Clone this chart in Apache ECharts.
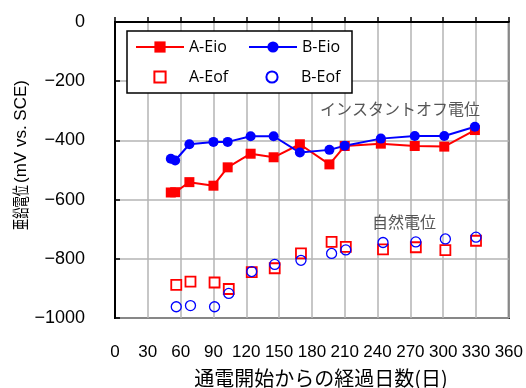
<!DOCTYPE html>
<html><head><meta charset="utf-8">
<script src="https://cdn.jsdelivr.net/npm/echarts@6/dist/echarts.min.js"></script>
<style>html,body{margin:0;padding:0;background:#fff}#c{width:526px;height:388px}</style>
</head><body><div id="c"></div>
<script>
var eioDays = [51, 55, 68, 90, 103, 124, 145, 169, 196, 210, 243, 274, 301, 329];
var aEio = [-576, -575, -541, -553, -491, -445, -457, -413, -481, -419, -411, -419, -421, -365];
var bEio = [-462, -468, -413, -405, -405, -386, -386, -441, -432, -418, -394, -385, -385, -354];
var eofDays = [56, 69, 91, 104, 125, 146, 170, 198, 211, 245, 275, 302, 330];
var aEof = [-888, -877, -880, -902, -845, -832, -782, -743, -760, -768, -761, -771, -739];
var bEof = [-962, -958, -962, -917, -843, -819, -805, -782, -770, -745, -743, -733, -727];
var xTicks = {min: 0, max: 360, interval: 30};
var yTicks = {min: -1000, max: 0, interval: 200};

function pairs(xs, ys) { return xs.map(function (x, i) { return [x, ys[i]]; }); }
var numFont = "'Liberation Sans Narrow','Arial Narrow','Liberation Sans',sans-serif";
var chart = echarts.init(document.getElementById('c'), null, {renderer: 'canvas'});
chart.setOption({
  animation: false,
  backgroundColor: '#fff',
  grid: {left: 115, right: 15, top: 22, bottom: 70, show: true, borderColor: '#000', borderWidth: 2, backgroundColor: 'transparent'},
  xAxis: {
    type: 'value', min: xTicks.min, max: xTicks.max, interval: xTicks.interval,
    axisLine: {show: true, lineStyle: {color: '#000', width: 2}},
    axisTick: {show: true, inside: true, length: 5, lineStyle: {color: '#000', width: 1.5}},
    axisLabel: {margin: 26, fontSize: 17, color: '#000', fontFamily: numFont},
    splitLine: {show: true, lineStyle: {color: '#b4b4b4', width: 1.5}}
  },
  yAxis: {
    type: 'value', min: yTicks.min, max: yTicks.max, interval: yTicks.interval,
    axisLine: {show: true, onZero: false, lineStyle: {color: '#000', width: 2}},
    axisTick: {show: true, inside: true, length: 5, lineStyle: {color: '#000', width: 1.5}},
    axisLabel: {margin: 30, fontSize: 18, color: '#000', fontFamily: numFont,
      formatter: function (v) { return v < 0 ? '\u2212' + Math.abs(v) : String(v); }},
    splitLine: {show: true, lineStyle: {color: '#b4b4b4', width: 1.5}}
  },
  legend: {
    left: 127, top: 31, width: 215, orient: 'horizontal',
    padding: [8, 5, 8, 8], itemGap: 14, itemWidth: 48, itemHeight: 14,
    backgroundColor: '#fff', borderColor: '#000', borderWidth: 1.5, borderRadius: 0,
    textStyle: {fontSize: 16, color: '#000', width: 45, lineHeight: 14, fontFamily: "'Open Sans','Liberation Sans',sans-serif"},
    data: ['A-Eio', 'B-Eio', 'A-Eof', 'B-Eof']
  },
  series: [
    {name: 'A-Eio', type: 'line', data: pairs(eioDays, aEio), symbol: 'rect', symbolSize: 10,
      itemStyle: {color: '#ff0000'}, lineStyle: {color: '#ff0000', width: 2}},
    {name: 'B-Eio', type: 'line', data: pairs(eioDays, bEio), symbol: 'circle', symbolSize: 10,
      itemStyle: {color: '#0000ff'}, lineStyle: {color: '#0000ff', width: 2}},
    {name: 'A-Eof', type: 'line', data: pairs(eofDays, aEof), symbol: 'rect', symbolSize: 10,
      itemStyle: {color: '#fff', borderColor: '#ff0000', borderWidth: 1.8}, lineStyle: {width: 0, opacity: 0}},
    {name: 'B-Eof', type: 'line', data: pairs(eofDays, bEof), symbol: 'circle', symbolSize: 10,
      itemStyle: {color: 'rgba(255,255,255,0)', borderColor: '#0000ff', borderWidth: 1.3}, lineStyle: {width: 0, opacity: 0}}
  ],
  graphic: [
    {type: 'text', x: 320, y: 109, z: 10, style: {text: 'インスタントオフ電位', fontSize: 16, fill: '#555', verticalAlign: 'middle', align: 'left', fontFamily: "'Noto Sans CJK JP',sans-serif"}},
    {type: 'text', x: 372, y: 222, z: 10, style: {text: '自然電位', fontSize: 16, fill: '#555', verticalAlign: 'middle', align: 'left', fontFamily: "'Noto Sans CJK JP',sans-serif"}},
    {type: 'text', x: 321, y: 378, style: {text: '通電開始からの経過日数(日)', fontSize: 20, fill: '#000', verticalAlign: 'middle', align: 'center', fontFamily: "'Noto Sans CJK JP',sans-serif"}},
    {type: 'text', x: 21, y: 230, rotation: Math.PI / 2, scaleX: 0.66, style: {text: '亜鉛電位', fontSize: 17, fill: '#000', verticalAlign: 'middle', align: 'left', fontFamily: "'Noto Sans CJK JP',sans-serif"}},
    {type: 'text', x: 21, y: 183, rotation: Math.PI / 2, style: {text: '(mV vs. SCE)', fontSize: 17, fill: '#000', verticalAlign: 'middle', align: 'left', fontFamily: numFont}}
  ]
});
</script></body></html>
